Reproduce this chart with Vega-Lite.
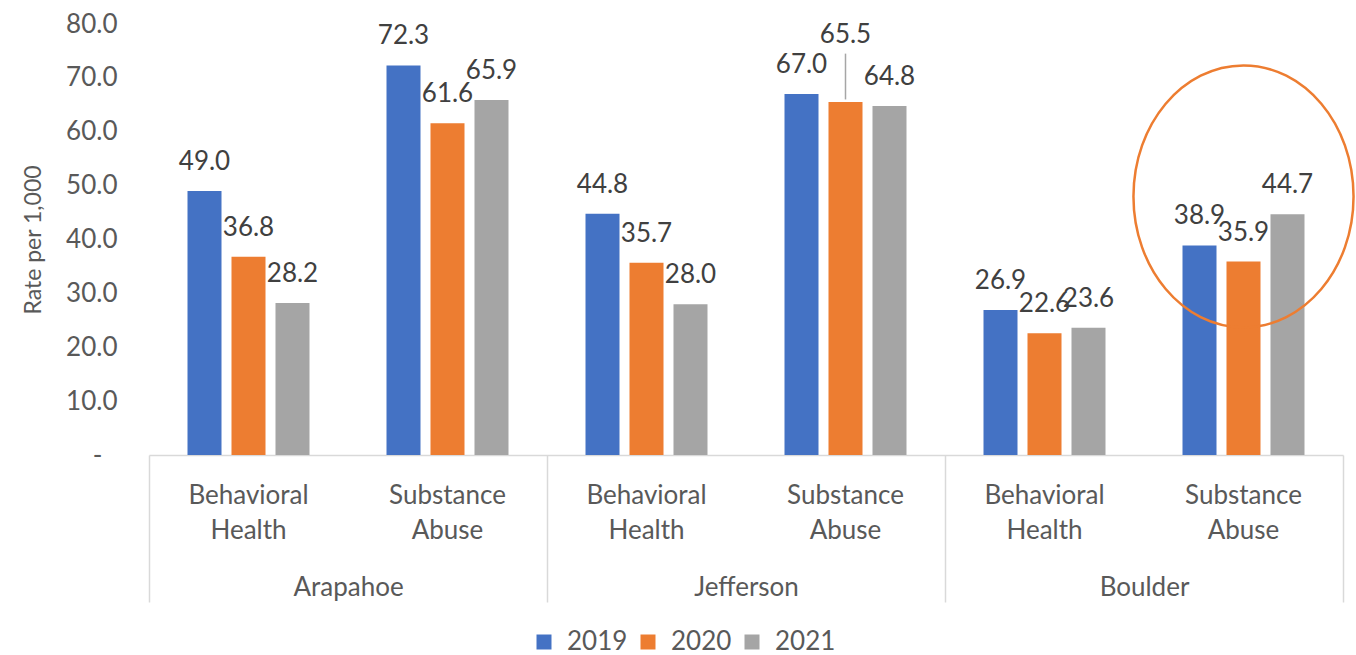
{
  "$schema": "https://vega.github.io/schema/vega-lite/v6.json",
  "width": 1194,
  "height": 431,
  "autosize": {"type": "none"},
  "padding": {"left": 149, "top": 24, "right": 13, "bottom": 200},
  "config": {
    "font": "Lato",
    "view": {"stroke": null},
    "axis": {"labelFont": "Lato", "titleFont": "Lato", "labelColor": "#595959", "titleColor": "#595959"},
    "legend": {"labelFont": "Lato", "padding": 0}
  },
  "data": {
    "values": [
      {"county": "Arapahoe", "type": "Behavioral Health", "year": "2019", "value": 49.0},
      {"county": "Arapahoe", "type": "Behavioral Health", "year": "2020", "value": 36.8},
      {"county": "Arapahoe", "type": "Behavioral Health", "year": "2021", "value": 28.2},
      {"county": "Arapahoe", "type": "Substance Abuse", "year": "2019", "value": 72.3},
      {"county": "Arapahoe", "type": "Substance Abuse", "year": "2020", "value": 61.6},
      {"county": "Arapahoe", "type": "Substance Abuse", "year": "2021", "value": 65.9},
      {"county": "Jefferson", "type": "Behavioral Health", "year": "2019", "value": 44.8},
      {"county": "Jefferson", "type": "Behavioral Health", "year": "2020", "value": 35.7},
      {"county": "Jefferson", "type": "Behavioral Health", "year": "2021", "value": 28.0},
      {"county": "Jefferson", "type": "Substance Abuse", "year": "2019", "value": 67.0},
      {"county": "Jefferson", "type": "Substance Abuse", "year": "2020", "value": 65.5},
      {"county": "Jefferson", "type": "Substance Abuse", "year": "2021", "value": 64.8},
      {"county": "Boulder", "type": "Behavioral Health", "year": "2019", "value": 26.9},
      {"county": "Boulder", "type": "Behavioral Health", "year": "2020", "value": 22.6},
      {"county": "Boulder", "type": "Behavioral Health", "year": "2021", "value": 23.6},
      {"county": "Boulder", "type": "Substance Abuse", "year": "2019", "value": 38.9},
      {"county": "Boulder", "type": "Substance Abuse", "year": "2020", "value": 35.9},
      {"county": "Boulder", "type": "Substance Abuse", "year": "2021", "value": 44.7}
    ]
  },
  "transform": [{"calculate": "datum.county + '|' + datum.type", "as": "key"}],
  "layer": [
    {
      "layer": [
        {
          "mark": {"type": "bar"},
          "encoding": {
            "x": {
              "field": "key", "type": "nominal", "sort": null,
              "scale": {"paddingInner": 0, "paddingOuter": 0},
              "axis": {
                "title": null,
                "labelExpr": "split(split(datum.label, '|')[1], ' ')",
                "labelAngle": 0, "ticks": false,
                "domainColor": "#d9d9d9", "domainWidth": 1.5,
                "labelFontSize": 26, "labelPadding": 48,
                "labelBaseline": "alphabetic", "labelLineHeight": 35,
                "labelColor": "#595959"
              }
            },
            "xOffset": {"field": "year", "type": "nominal", "scale": {"paddingInner": 0.227, "paddingOuter": 0.875}},
            "y": {
              "field": "value", "type": "quantitative",
              "scale": {"domain": [0, 80], "nice": false},
              "axis": {
                "title": "Rate per 1,000",
                "values": [0, 10, 20, 30, 40, 50, 60, 70, 80],
                "labelExpr": "datum.value == 0 ? '-' : format(datum.value, '.1f')",
                "grid": false, "domain": false, "ticks": false, "tickSize": 0,
                "labelFontSize": 26,
                "labelPadding": {"condition": {"test": "datum.value == 0", "value": 47}, "value": 32},
                "titleFontSize": 23, "titleFontWeight": "normal", "titlePadding": 20
              }
            },
            "color": {
              "field": "year", "type": "nominal",
              "scale": {"domain": ["2019", "2020", "2021"], "range": ["#4472C4", "#ED7D31", "#A5A5A5"]},
              "legend": {
                "title": null, "orient": "none", "legendX": 382, "legendY": 605,
                "direction": "horizontal", "symbolType": "square", "symbolSize": 225,
                "symbolStrokeWidth": 0, "labelFontSize": 26, "labelColor": "#595959",
                "labelOffset": 10, "columnPadding": 7
              }
            }
          }
        },
        {
          "transform": [{"filter": "!(datum.county == 'Jefferson' && datum.type == 'Substance Abuse' && datum.year == '2020')"}],
          "mark": {"type": "text", "baseline": "alphabetic", "dy": -21, "fontSize": 26, "color": "#404040", "font": "Lato"},
          "encoding": {
            "x": {"field": "key", "type": "nominal", "sort": null},
            "xOffset": {"field": "year", "type": "nominal"},
            "y": {"field": "value", "type": "quantitative"},
            "text": {"field": "value", "type": "quantitative", "format": ".1f"}
          }
        },
        {
          "transform": [{"filter": "datum.county == 'Jefferson' && datum.type == 'Substance Abuse' && datum.year == '2020'"}],
          "mark": {"type": "text", "baseline": "alphabetic", "dy": -59, "fontSize": 26, "color": "#404040", "font": "Lato"},
          "encoding": {
            "x": {"field": "key", "type": "nominal", "sort": null},
            "xOffset": {"field": "year", "type": "nominal"},
            "y": {"field": "value", "type": "quantitative"},
            "text": {"field": "value", "type": "quantitative", "format": ".1f"}
          }
        },
        {
          "transform": [{"filter": "datum.county == 'Jefferson' && datum.type == 'Substance Abuse' && datum.year == '2020'"}],
          "mark": {"type": "rule", "color": "#a6a6a6", "strokeWidth": 1.5},
          "encoding": {
            "x": {"field": "key", "type": "nominal", "sort": null},
            "xOffset": {"field": "year", "type": "nominal"},
            "y": {"datum": 66},
            "y2": {"datum": 74.5}
          }
        },
        {
          "data": {"values": [{"note": "highlight"}]},
          "mark": {
            "type": "point", "filled": false, "stroke": "#ED7D31", "strokeWidth": 2.5, "opacity": 1,
            "shape": "M -0.84 0 A 0.84 1 0 1 0 0.84 0 A 0.84 1 0 1 0 -0.84 0 Z",
            "size": 68644
          },
          "encoding": {
            "x": {"datum": "Boulder|Substance Abuse"},
            "y": {"datum": 48}
          }
        }
      ]
    },
    {
      "mark": {"type": "point", "opacity": 0},
      "encoding": {
        "x": {
          "field": "county", "type": "nominal", "sort": ["Arapahoe", "Jefferson", "Boulder"],
          "scale": {"paddingInner": 0, "paddingOuter": 0},
          "axis": {
            "orient": "bottom", "title": null, "domain": false, "ticks": true,
            "tickBand": "extent", "tickSize": 147, "tickColor": "#d9d9d9", "tickWidth": 1.5,
            "labelAngle": 0, "labelFontSize": 26, "labelPadding": -7,
            "labelBaseline": "alphabetic", "labelColor": "#595959"
          }
        }
      }
    }
  ],
  "resolve": {"scale": {"x": "independent"}}
}
